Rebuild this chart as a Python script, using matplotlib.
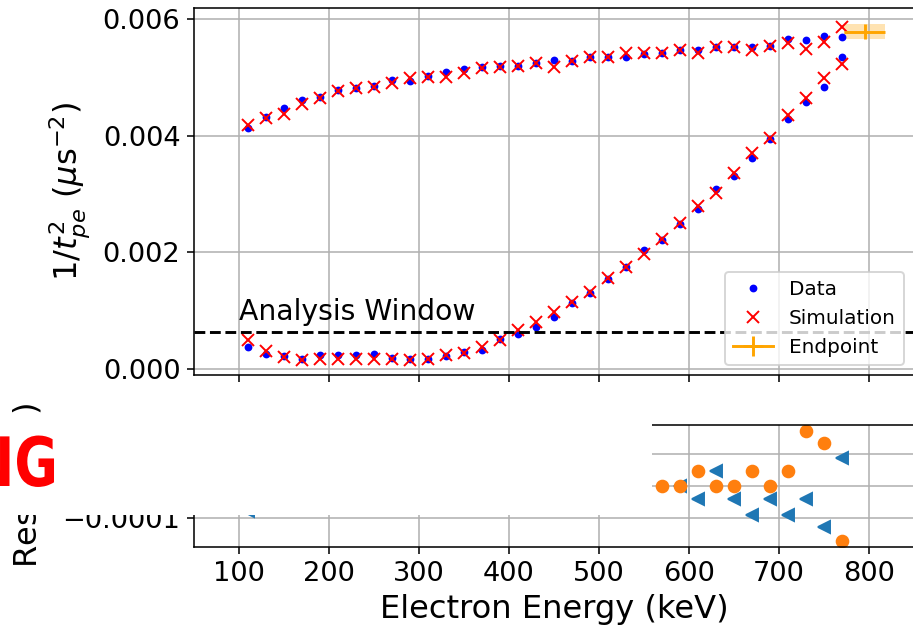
import matplotlib
matplotlib.use('Agg')
import matplotlib.pyplot as plt
from matplotlib.patches import Rectangle
from matplotlib.patheffects import AbstractPathEffect
from matplotlib.transforms import Affine2D

# ---------------- data ----------------
energy = [110, 130, 150, 170, 190, 210, 230, 250, 270, 290, 310, 330, 350, 370, 390,
          410, 430, 450, 470, 490, 510, 530, 550, 570, 590, 610, 630, 650, 670, 690,
          710, 730, 750, 770]

data_upper = [0.004137, 0.004321, 0.004475, 0.004618, 0.004664, 0.004784, 0.004830, 0.004864,
              0.004961, 0.004944, 0.005030, 0.005093, 0.005145, 0.005179, 0.005202, 0.005202,
              0.005247, 0.005305, 0.005293, 0.005351, 0.005351, 0.005351, 0.005408, 0.005420,
              0.005476, 0.005476, 0.005522, 0.005522, 0.005533, 0.005545, 0.005660, 0.005648,
              0.005722, 0.005694]
sim_upper = [0.004189, 0.004304, 0.004372, 0.004544, 0.004647, 0.004772, 0.004818, 0.004846,
             0.004904, 0.005001, 0.005018, 0.005018, 0.005076, 0.005173, 0.005190, 0.005202,
             0.005247, 0.005190, 0.005293, 0.005351, 0.005351, 0.005420, 0.005420, 0.005420,
             0.005476, 0.005420, 0.005522, 0.005522, 0.005476, 0.005545, 0.005602, 0.005488,
             0.005608, 0.005866]
data_lower = [0.000383, 0.000258, 0.000229, 0.000172, 0.000240, 0.000240, 0.000240, 0.000252,
              0.000183, 0.000172, 0.000172, 0.000229, 0.000286, 0.000326, 0.000510, 0.000595,
              0.000727, 0.000898, 0.001139, 0.001310, 0.001540, 0.001746, 0.002043, 0.002215,
              0.002489, 0.002741, 0.003085, 0.003313, 0.003617, 0.003943, 0.004286, 0.004589,
              0.004846, 0.005351]
sim_lower = [0.000498, 0.000315, 0.000212, 0.000155, 0.000172, 0.000172, 0.000172, 0.000172,
             0.000166, 0.000155, 0.000166, 0.000240, 0.000280, 0.000383, 0.000498, 0.000670,
             0.000812, 0.000984, 0.001156, 0.001327, 0.001557, 0.001757, 0.001974, 0.002226,
             0.002501, 0.002798, 0.003027, 0.003370, 0.003714, 0.003960, 0.004360, 0.004647,
             0.005001, 0.005231]

endpoint_E = 795.0
endpoint_E_err = 22.5
endpoint_val = 0.00579
endpoint_val_err = 0.00013

analysis_window = 0.000635

res_upper_E = [570, 590, 610, 630, 650, 670, 690, 710, 730, 750, 770]
res_upper = [0.0, 0.0, 4.6e-5, 0.0, 0.0, 4.6e-5, 0.0, 4.6e-5, 1.69e-4, 1.32e-4, -1.69e-4]
res_lower_E = [110, 550, 590, 610, 630, 650, 670, 690, 710, 730, 750, 770]
res_lower = [-7.6e-5, 4.6e-5, 0.0, -4.0e-5, 4.6e-5, -4.0e-5, -8.8e-5, -4.0e-5, -8.8e-5,
             -4.0e-5, -1.26e-4, 8.6e-5]


class Squeeze(AbstractPathEffect):
    """Horizontally compress a text path around a display x position."""
    def __init__(self, sx, x0):
        super().__init__()
        self.sx = sx
        self.x0 = x0

    def draw_path(self, renderer, gc, tpath, affine, rgbFace=None):
        aff = affine + Affine2D().translate(-self.x0, 0).scale(self.sx, 1).translate(self.x0, 0)
        renderer.draw_path(gc, tpath, aff, rgbFace)


# ---------------- figure ----------------
DPI = 140
W, H = 913, 626
fig = plt.figure(figsize=(W / DPI, H / DPI), dpi=DPI)

L, R = 194, 914
ax1 = fig.add_axes([L / W, 1 - 374.8 / H, (R - L) / W, (374.8 - 7.85) / H])
ax2 = fig.add_axes([L / W, 1 - 547 / H, (R - L) / W, (547 - 425) / H], sharex=ax1)

TICK = 14
LAB = 16.5

ax1.plot(energy, data_upper, 'b.', label='Data')
ax1.plot(energy, sim_upper, 'rx', label='Simulation')
ax1.plot(energy, data_lower, 'b.')
ax1.plot(energy, sim_lower, 'rx')
ax1.errorbar([endpoint_E], [endpoint_val], xerr=[endpoint_E_err], yerr=[endpoint_val_err],
             color='orange', label='Endpoint')
ax1.fill_between([endpoint_E - endpoint_E_err, endpoint_E + endpoint_E_err],
                 endpoint_val - endpoint_val_err, endpoint_val + endpoint_val_err,
                 color='orange', alpha=0.3, lw=0)
ax1.axhline(analysis_window, color='k', ls='--')
ax1.text(100, 0.00084, 'Analysis Window', fontsize=14.5, va='baseline', ha='left')

ax1.set_xlim(50, 850)
ax1.set_ylim(-0.0001, 0.0062)
ax1.set_yticks([0.0, 0.002, 0.004, 0.006])
ax1.grid(True)
ax1.tick_params(labelsize=TICK, labelbottom=False)
ax1.set_ylabel(r'1/$t_{pe}^2$ ($\mu$s$^{-2}$)', fontsize=LAB, labelpad=5.5)
ax1.legend(loc='lower right', fontsize=10.3)

ax2.plot(res_lower_E, res_lower, '<', color='C0')
ax2.plot(res_upper_E, res_upper, 'o', color='C1')
ax2.set_ylim(-0.000188, 0.000188)
ax2.set_yticks([-0.0001, 0.0, 0.0001])
ax2.grid(True)
ax2.tick_params(labelsize=TICK)
ax2.set_xlabel('Electron Energy (keV)', fontsize=LAB)
ax2.set_ylabel(r'Res ($\mu$s$^{-2}$)', fontsize=LAB, labelpad=8)

# white cover box with red stamp text
fig.patches.append(Rectangle((0, 1 - 515 / H), 652 / W, (515 - 415) / H,
                             transform=fig.transFigure, facecolor='white',
                             edgecolor='none', zorder=10))
fig.text(58 / W, 1 - 486 / H, 'NG', color='red', fontsize=35, fontweight='bold',
         ha='right', va='baseline', zorder=11,
         path_effects=[Squeeze(0.78, 57)])

fig.savefig('out.png', dpi=DPI)
